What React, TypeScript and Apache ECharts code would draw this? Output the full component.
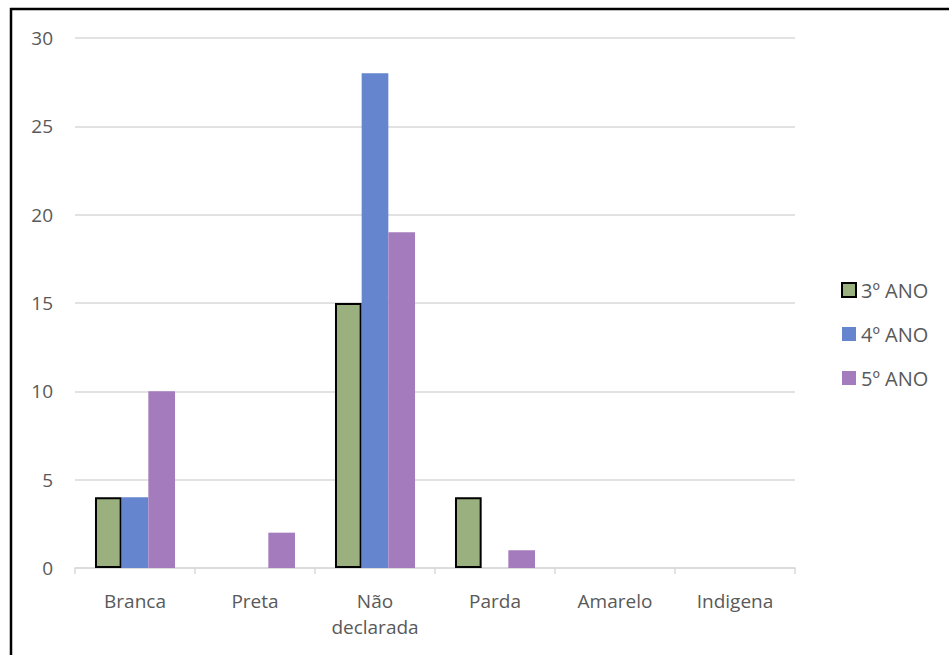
import React, { useEffect, useRef } from "react";
import * as echarts from "echarts";

const categories = ["Branca", "Preta", "Não\ndeclarada", "Parda", "Amarelo", "Indigena"];
const seriesNames = ["3º ANO", "4º ANO", "5º ANO"];
const values3 = [4, 0, 15, 4, 0, 0];
const values4 = [4, 0, 28, 0, 0, 0];
const values5 = [10, 2, 19, 1, 0, 0];
const yTicks = [0, 5, 10, 15, 20, 25, 30];

const colors = ["#9BB07F", "#6585CF", "#A47BBD"];

export default function App() {
  const ref = useRef<HTMLDivElement>(null);
  useEffect(() => {
    if (!ref.current) return;
    const chart = echarts.init(ref.current, undefined, { renderer: "svg" });
    const font = "'Open Sans', sans-serif";
    const mk = (vals: number[], idx: number) => ({
      name: seriesNames[idx],
      type: "bar",
      barGap: "0%",
      barCategoryGap: "33.3%",
      itemStyle: idx === 0
        ? { color: colors[0], borderColor: "#000", borderWidth: 2 }
        : { color: colors[idx] },
      data: vals.map((v) => (v === 0 ? { value: 0, itemStyle: { borderWidth: 0, opacity: 0 } } : v)),
    });
    chart.setOption({
      animation: false,
      backgroundColor: "#fff",
      textStyle: { fontFamily: font },
      grid: { left: 75, right: 154, top: 38, bottom: 87, containLabel: false },
      legend: {
        orient: "vertical",
        left: 836,
        top: 275,
        itemWidth: 14,
        itemHeight: 14,
        itemGap: 24,
        icon: "rect",
        textStyle: { fontSize: 20, color: "#595959", fontFamily: font },
        data: seriesNames,
      },
      xAxis: {
        type: "category",
        data: categories,
        axisLine: { lineStyle: { color: "#D9D9D9", width: 1.5 } },
        axisTick: { show: true, length: 6, lineStyle: { color: "#D9D9D9", width: 1.5 } },
        axisLabel: { fontSize: 19, color: "#595959", fontFamily: font, margin: 20, lineHeight: 26 },
      },
      yAxis: {
        type: "value",
        min: yTicks[0],
        max: yTicks[yTicks.length - 1],
        interval: 5,
        axisLine: { show: false },
        axisTick: { show: false },
        splitLine: { lineStyle: { color: "#D9D9D9", width: 1.5 } },
        axisLabel: { fontSize: 19, color: "#595959", fontFamily: font, margin: 22 },
      },
      graphic: [
        { type: "line", shape: { x1: 11, y1: 8, x2: 11, y2: 655 }, style: { stroke: "#000", lineWidth: 2.5 } },
        { type: "line", shape: { x1: 10, y1: 9, x2: 949, y2: 9 }, style: { stroke: "#000", lineWidth: 2.5 } },
      ],
      series: [mk(values3, 0), mk(values4, 1), mk(values5, 2)],
    });
    return () => chart.dispose();
  }, []);
  return <div ref={ref} style={{ position: "absolute", left: 0, top: 0, width: 949, height: 655 }} />;
}
